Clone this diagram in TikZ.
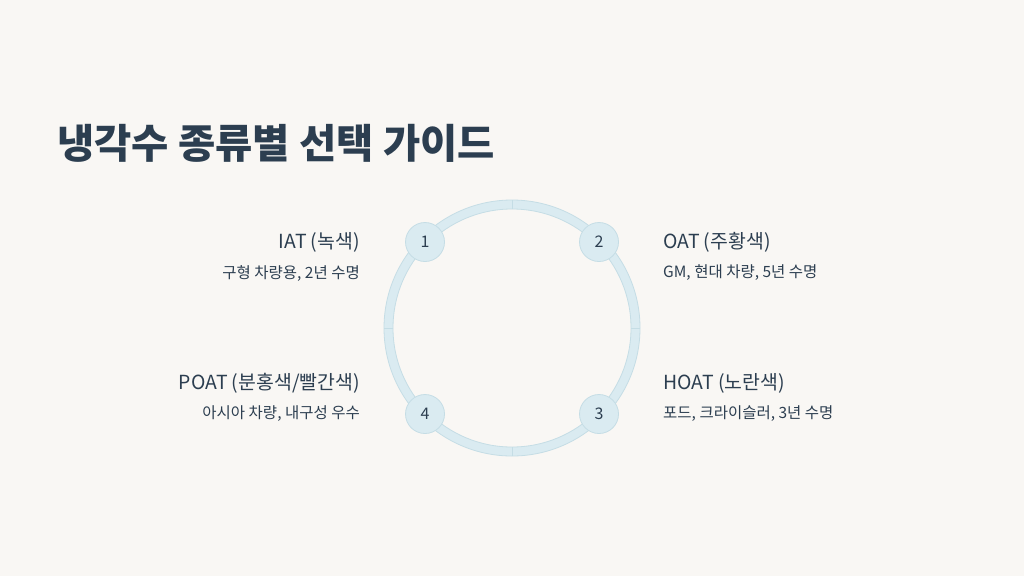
\documentclass[tikz,border=0pt]{standalone}
\usepackage{fontspec}
\usetikzlibrary{calc}
\setmainfont{Noto Sans CJK KR}
\definecolor{bg}{HTML}{F9F7F4}
\definecolor{ink}{HTML}{2C3E50}
\definecolor{ringf}{HTML}{DAEBF1}
\definecolor{ringd}{HTML}{C5DDE5}
\tikzset{
 num/.style={circle,fill=ringf,draw=ringd,line width=0.8pt,minimum size=39pt,inner sep=0pt,text=ink,font=\fontsize{16}{16}\selectfont},
 head/.style={text=ink,font=\fontsize{19.4}{22}\selectfont,inner sep=0pt},
 sub/.style={text=ink,font=\fontsize{15.5}{17}\selectfont,inner sep=0pt}
}
\begin{document}
\begin{tikzpicture}[x=1pt,y=-1pt]
\fill[bg] (0,0) rectangle (1024,576);
\useasboundingbox (0,0) rectangle (1024,576);
\node[anchor=west,text=ink,font=\fontsize{40.5}{44}\selectfont\bfseries,inner sep=0pt] (title) at (57,143) {냉각수 종류별 선택 가이드};
\coordinate (c) at (512,328);
\fill[ringf,even odd rule,draw=ringd,line width=0.8pt] (c) circle (128) (c) circle (119);
\foreach \a in {0,90,180,270}
  \draw[ringd,line width=0.8pt] ($(c)+(\a:119)$) -- ($(c)+(\a:128)$);
\node[num] (n1) at (425,242) {1};
\node[num] (n2) at (599,242) {2};
\node[num] (n3) at (599,414) {3};
\node[num] (n4) at (425,414) {4};
\node[head,anchor=east] (h1) at (360,242) {IAT (녹색)};
\node[sub,anchor=east] (s1) at (360,273) {구형 차량용, 2년 수명};
\node[head,anchor=west] (h2) at (663,242) {OAT (주황색)};
\node[sub,anchor=west] (s2) at (663,273) {GM, 현대 차량, 5년 수명};
\node[head,anchor=west] (h3) at (663,383) {HOAT (노란색)};
\node[sub,anchor=west] (s3) at (663,414) {포드, 크라이슬러, 3년 수명};
\node[head,anchor=east] (h4) at (360,383) {POAT (분홍색/빨간색)};
\node[sub,anchor=east] (s4) at (360,414) {아시아 차량, 내구성 우수};
\end{tikzpicture}
\end{document}
